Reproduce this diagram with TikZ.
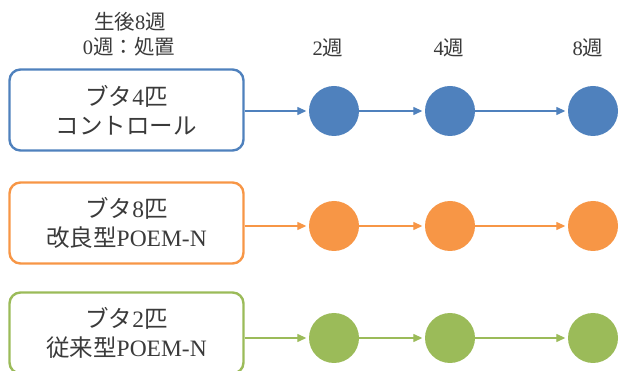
\documentclass[tikz,border=0pt]{standalone}
\usepackage{fontspec}
\setmainfont{Liberation Serif}
\newfontfamily\cjk{Noto Sans CJK JP}
\usetikzlibrary{arrows.meta}
\definecolor{cblue}{HTML}{4F81BD}
\definecolor{corange}{HTML}{F79646}
\definecolor{cgreen}{HTML}{9BBB59}
\definecolor{txt}{HTML}{3A3A3A}
\tikzset{
  groupbox/.style={draw, rounded corners=11pt, line width=2.4pt, minimum width=234pt,
    minimum height=81pt, align=center, text=txt, inner sep=0pt,
    font=\fontsize{23.5}{29}\selectfont},
  dot/.style={circle, minimum size=50pt, inner sep=0pt, draw=none},
  hdr/.style={text=txt, inner sep=0pt, font=\fontsize{20.5}{24}\selectfont},
  flow/.style={line width=1.3pt, -{Triangle[length=9pt,width=8pt]}, shorten >=2.5pt}
}
\begin{document}
\begin{tikzpicture}[x=1pt,y=-1pt]
\useasboundingbox (0,0) rectangle (619,371);
\clip (0,0) rectangle (619,371);
% headers
\node[hdr] (h1) at (130,22) {{\cjk 生後}8{\cjk 週}};
\node[hdr] (h2) at (129,47) {0{\cjk 週：処置}};
\node[hdr] (h3) at (328,48) {2{\cjk 週}};
\node[hdr] (h4) at (449,48) {4{\cjk 週}};
\node[hdr] (h5) at (588,48) {8{\cjk 週}};
% blue row
\node[groupbox, draw=cblue] (b0) at (126.5,110) {{\cjk ブタ}4{\cjk 匹}\\{\cjk コントロール}};
\node[dot, fill=cblue] (b1) at (334,111) {};
\node[dot, fill=cblue] (b2) at (450,111) {};
\node[dot, fill=cblue] (b3) at (593,111) {};
\draw[flow, cblue] (b0.east |- b1.west) -- (b1.west);
\draw[flow, cblue] (b1) -- (b2);
\draw[flow, cblue] (b2) -- (b3);
% orange row
\node[groupbox, draw=corange] (o0) at (126.5,223) {{\cjk ブタ}8{\cjk 匹}\\{\cjk 改良型}POEM-N};
\node[dot, fill=corange] (o1) at (334,226) {};
\node[dot, fill=corange] (o2) at (450,226) {};
\node[dot, fill=corange] (o3) at (593,226) {};
\draw[flow, corange] (o0.east |- o1.west) -- (o1.west);
\draw[flow, corange] (o1) -- (o2);
\draw[flow, corange] (o2) -- (o3);
% green row
\node[groupbox, draw=cgreen] (g0) at (126.5,333) {{\cjk ブタ}2{\cjk 匹}\\{\cjk 従来型}POEM-N};
\node[dot, fill=cgreen] (g1) at (334,338) {};
\node[dot, fill=cgreen] (g2) at (450,338) {};
\node[dot, fill=cgreen] (g3) at (593,338) {};
\draw[flow, cgreen] (g0.east |- g1.west) -- (g1.west);
\draw[flow, cgreen] (g1) -- (g2);
\draw[flow, cgreen] (g2) -- (g3);
\end{tikzpicture}
\end{document}
